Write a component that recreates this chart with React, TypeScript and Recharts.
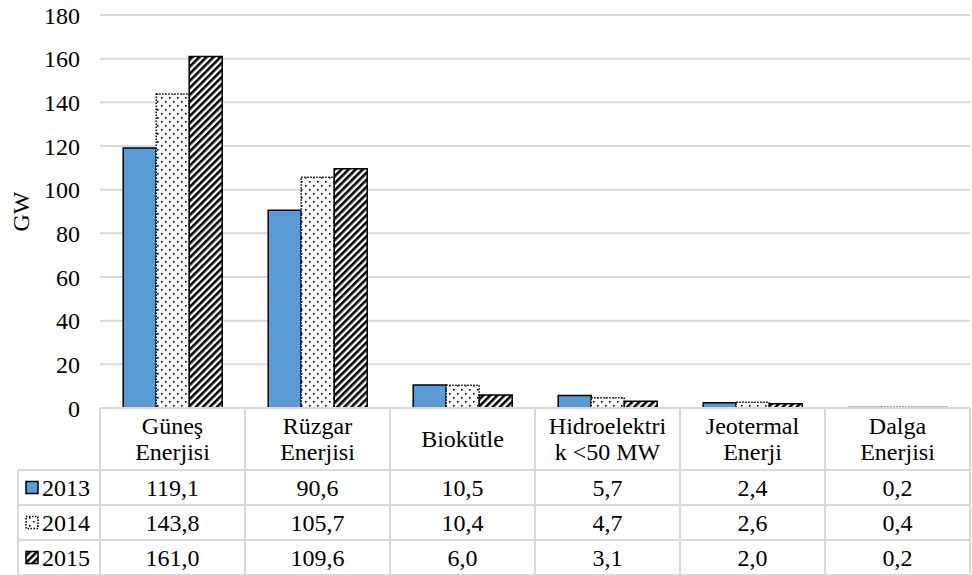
import { BarChart, Bar, XAxis, YAxis, CartesianGrid } from "recharts";

const CATEGORIES: string[][] = [
    ["Güneş", "Enerjisi"],
    ["Rüzgar", "Enerjisi"],
    ["Biokütle"],
    ["Hidroelektri", "k <50 MW"],
    ["Jeotermal", "Enerji"],
    ["Dalga", "Enerjisi"]
];
const YEARS = ["2013", "2014", "2015"];
const VALUES_2013 = [119.1, 90.6, 10.5, 5.7, 2.4, 0.2];
const VALUES_2014 = [143.8, 105.7, 10.4, 4.7, 2.6, 0.4];
const VALUES_2015 = [161.0, 109.6, 6.0, 3.1, 2.0, 0.2];
const Y_TICKS = [0, 20, 40, 60, 80, 100, 120, 140, 160, 180];

const SERIES = [VALUES_2013, VALUES_2014, VALUES_2015];

const data = CATEGORIES.map((lines, i) => ({
    name: lines.join(" "),
    y2013: VALUES_2013[i],
    y2014: VALUES_2014[i],
    y2015: VALUES_2015[i]
}));

const W = 972;
const H = 575;
const LEFT = 100;
const RIGHT = 2;
const TOP = 15;
const TABLE_H = 167;
const BAND = (W - LEFT - RIGHT) / CATEGORIES.length;
const HEADER_H = 62;
const ROW_H = 35;
const LEGEND_X = 18;
const FONT = "Liberation Serif";
const FS = 24;
const GRID = "#d9d9d9";
const TEXT_STYLE = { fontFamily: FONT, fontSize: FS, fill: "#000" };

const fmt = (v: number) => v.toFixed(1).replace(".", ",");

const SWATCH = [
    { fill: "#5b9bd5", dash: undefined },
    { fill: "url(#dots)", dash: "1.5 1.5" },
    { fill: "url(#stripes)", dash: undefined }
];

// x-axis tick draws one column of the data table under the plot
function TableColumn(props: any) {
    const { x, y, payload, index } = props;
    const i = payload.index ?? index;
    const lines = CATEGORIES[i] || [];
    const top = y;
    const bottom = H - 1;
    const headCenter = top + HEADER_H / 2;
    return (
        <g>
            {i === 0 && (
                <g>
                    <line x1={x - BAND / 2} x2={x - BAND / 2} y1={top} y2={bottom} stroke={GRID} strokeWidth={2} />
                    <line x1={LEGEND_X} x2={LEGEND_X} y1={top + HEADER_H} y2={bottom} stroke={GRID} strokeWidth={2} />
                    {[0, 1, 2, 3].map((r) => (
                        <line
                            key={r}
                            x1={LEGEND_X}
                            x2={W - RIGHT}
                            y1={top + HEADER_H + r * ROW_H}
                            y2={top + HEADER_H + r * ROW_H}
                            stroke={GRID}
                            strokeWidth={2}
                        />
                    ))}
                    {YEARS.map((yr, r) => {
                        const cy = top + HEADER_H + r * ROW_H + ROW_H / 2;
                        return (
                            <g key={yr}>
                                <rect
                                    x={26}
                                    y={cy - 6}
                                    width={12}
                                    height={12}
                                    fill={SWATCH[r].fill}
                                    stroke="#000"
                                    strokeWidth={1.5}
                                    strokeDasharray={SWATCH[r].dash}
                                />
                                <text x={42} y={cy} dy="0.35em" style={TEXT_STYLE}>
                                    {yr}
                                </text>
                            </g>
                        );
                    })}
                </g>
            )}
            <line x1={x + BAND / 2} x2={x + BAND / 2} y1={top} y2={bottom} stroke={GRID} strokeWidth={2} />
            {lines.map((t, k) => (
                <text
                    key={k}
                    x={x}
                    y={headCenter + (k - (lines.length - 1) / 2) * 26}
                    dy="0.35em"
                    textAnchor="middle"
                    style={TEXT_STYLE}
                >
                    {t}
                </text>
            ))}
            {SERIES.map((s, r) => (
                <text
                    key={r}
                    x={x}
                    y={top + HEADER_H + r * ROW_H + ROW_H / 2}
                    dy="0.35em"
                    textAnchor="middle"
                    style={TEXT_STYLE}
                >
                    {fmt(s[i])}
                </text>
            ))}
        </g>
    );
}

export default function App() {
    return (
        <div style={{ width: W, height: H, background: "#fff", fontFamily: FONT }}>
            <style>{`body { margin: 0; }`}</style>
            <BarChart
                width={W}
                height={H}
                data={data}
                margin={{ top: TOP, right: RIGHT, bottom: 0, left: 0 }}
                barCategoryGap="16%"
                barGap={0}
                style={{ fontFamily: FONT }}
            >
                <defs>
                    <pattern id="dots" patternUnits="userSpaceOnUse" width={8} height={8}>
                        <rect width={8} height={8} fill="#fff" />
                        <rect x={1} y={1} width={1.6} height={1.6} fill="#000" />
                        <rect x={5} y={5} width={1.6} height={1.6} fill="#000" />
                    </pattern>
                    <pattern
                        id="stripes"
                        patternUnits="userSpaceOnUse"
                        width={5}
                        height={5}
                        patternTransform="rotate(45)"
                    >
                        <rect width={5} height={5} fill="#fff" />
                        <rect width={2.6} height={5} fill="#000" />
                    </pattern>
                </defs>
                <CartesianGrid vertical={false} stroke={GRID} strokeWidth={2} />
                <XAxis
                    dataKey="name"
                    height={TABLE_H}
                    interval={0}
                    tickLine={false}
                    tickSize={0}
                    tickMargin={0}
                    axisLine={{ stroke: GRID, strokeWidth: 2 }}
                    tick={<TableColumn />}
                />
                <YAxis
                    width={LEFT}
                    domain={[0, 180]}
                    ticks={Y_TICKS}
                    interval={0}
                    axisLine={false}
                    tickLine={false}
                    tickMargin={14}
                    tick={{ fontSize: FS, fill: "#000", fontFamily: FONT }}
                    label={{
                        value: "GW",
                        angle: -90,
                        position: "insideLeft",
                        offset: 20,
                        style: { fontSize: FS, fill: "#000", fontFamily: FONT, textAnchor: "middle" }
                    }}
                />
                <Bar dataKey="y2013" fill="#5b9bd5" stroke="#000" strokeWidth={1.5} isAnimationActive={false} />
                <Bar
                    dataKey="y2014"
                    fill="url(#dots)"
                    stroke="#000"
                    strokeWidth={1.5}
                    strokeDasharray="1.5 1.5"
                    isAnimationActive={false}
                />
                <Bar dataKey="y2015" fill="url(#stripes)" stroke="#000" strokeWidth={1.5} isAnimationActive={false} />
            </BarChart>
        </div>
    );
}
